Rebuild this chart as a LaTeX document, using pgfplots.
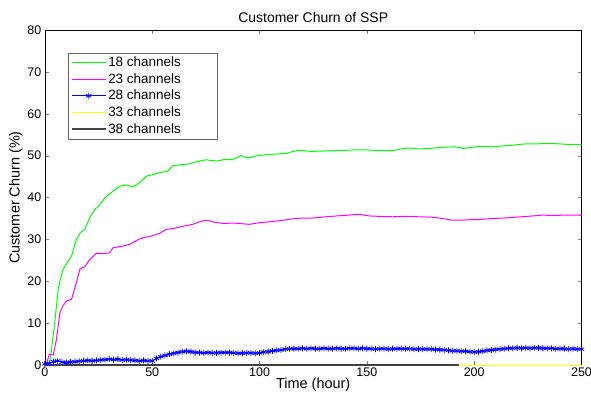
\documentclass[border=0pt]{standalone}
\usepackage{fontspec}
\setmainfont{Liberation Sans}
\usepackage{pgfplots}
\pgfplotsset{compat=1.18}

\definecolor{mgreen}{RGB}{0,255,0}
\definecolor{mmag}{RGB}{255,0,255}
\definecolor{mblue}{RGB}{0,0,255}
\definecolor{myel}{RGB}{255,255,0}

\begin{document}
\begin{tikzpicture}[font=\fontsize{12.5pt}{15pt}\selectfont]
\begin{axis}[
  scale only axis, width=538pt, height=336pt,
  xmin=0, xmax=250, ymin=0, ymax=80,
  xtick={0,50,...,250}, ytick={0,10,...,80},
  tick pos=both, tick align=inside,
  major tick length=4pt,
  /pgf/number format/assume math mode=true,
  ticklabel style={font=\fontsize{12.5pt}{15pt}\selectfont},
  xticklabel style={yshift=1pt},
  title={Customer Churn of SSP},
  title style={font=\fontsize{14pt}{16pt}\selectfont, yshift=-2pt},
  xlabel={Time (hour)}, ylabel={Customer Churn (\%)},
  xlabel style={font=\fontsize{14.5pt}{17pt}\selectfont, yshift=5pt},
  ylabel style={font=\fontsize{14.5pt}{17pt}\selectfont, yshift=-2pt},
  clip=false,
  legend cell align=left,
  legend style={at={(0.043,0.932)}, anchor=north west, draw=black!60,
    font=\fontsize{13.5pt}{16pt}\selectfont, row sep=1.4pt,
    inner xsep=3pt, inner ysep=2pt},
  legend image code/.code={\draw[mark repeat=2,mark phase=2,#1]
    plot coordinates {(0pt,0pt) (17pt,0pt) (34pt,0pt)};},
]
\coordinate (ll) at (rel axis cs:0,0);
\coordinate (ur) at (rel axis cs:1,1);

% 18 channels
\addplot[mgreen, line width=1pt] coordinates {
(0,0) (1,0) (2.3,0.7) (3.1,3.8) (4.6,10.2) (6.2,18) (7.2,20.5) (8.5,22.9) (10.5,24.5) (12.4,26)
(14.7,30) (16.5,31.6) (18.6,32.4) (20.9,35.2) (23.2,37.1) (25.5,38.2) (27.9,39.9) (31,41.2)
(34.9,42.7) (38,43.0) (41,42.5) (44.1,43.5) (47.2,45.1) (50,45.4) (53.4,45.9) (57.3,46.3)
(59.6,47.6) (63,47.8) (67,48.0) (71,48.6) (75.1,49) (80,48.7) (84,49.1) (87.5,49) (91.4,50)
(94.5,49.4) (98,49.9) (103,50.2) (108,50.4) (112.3,50.5) (115,50.9) (118.5,51.3) (124,51.0)
(130,51.1) (136,51.2) (141.7,51.3) (146.4,51.4) (152,51.3) (157,51.2) (162.6,51.2)
(166,51.6) (169.6,51.8) (175,51.6) (181,51.8) (186,52.0) (191.3,52.1) (195.2,51.7)
(199,52.0) (203.7,52.2) (208,52.1) (213,52.3) (218,52.5) (223.8,52.8) (229,52.8)
(234.7,52.9) (240,52.8) (245,52.6) (248.6,52.7) (250,52.6)
};
\addlegendentry{18 channels\rule{31pt}{0pt}}

% 23 channels
\addplot[mmag, line width=1pt] coordinates {
(0,0) (0.8,0.2) (2,2.6) (3.9,2.4) (5.4,6.2) (7,12.5) (8.5,14.2) (10.1,15.3) (12.4,15.7)
(14.7,19.7) (16.3,22.9) (18.6,23.5) (20.9,25.2) (24,26.7) (27,26.6) (30.2,26.8) (31.7,28)
(34,28.2) (36.4,28.4) (39.5,28.8) (42.5,29.7) (45.7,30.4) (49,30.7) (51.9,31.2) (53.4,31.4)
(56.5,32.4) (60,32.6) (64,33.1) (68.9,33.6) (72,34.2) (75.1,34.6) (79,34.1) (82.9,33.8)
(88,33.9) (95.3,33.6) (100,34.0) (105,34.2) (110,34.5) (115.4,34.9) (120,35.1) (125,35.1)
(130.9,35.4) (136,35.6) (141.7,35.8) (146.4,36.0) (151,35.6) (156,35.5) (161.9,35.4)
(168,35.5) (174,35.4) (180.4,35.3) (185,35.0) (189.7,34.6) (194,34.6) (198,34.7)
(203.7,34.8) (209,35.0) (214,35.1) (219.2,35.3) (225,35.5) (231.6,35.8) (237,35.7)
(242,35.8) (248.6,35.8) (250,35.7)
};
\addlegendentry{23 channels}

% 28 channels
\addplot[mblue, line width=1pt, mark=asterisk, mark size=3pt,
  mark options={line width=0.8pt}] coordinates {
(0,0.3) (2,0.4) (4,0.8) (6,1.0) (8,0.7) (10,0.6) (12,0.7) (14,0.8) (16,0.9) (18,1.0)
(20,1.1) (22,1.0) (24,1.1) (26,1.2) (28,1.3) (30,1.4) (32,1.3) (34,1.4) (36,1.2) (38,1.3)
(40,1.2) (42,1.1) (44,1.0) (46,1.1) (48,1.0) (50,1.0) (52,1.6) (54,2.0) (56,2.3) (58,2.6)
(60,2.8) (62,3.0) (64,3.2) (66,3.3) (68,3.2) (70,3.0) (72,3.0) (74,2.9) (76,3.0) (78,2.9)
(80,2.9) (82,3.0) (84,3.0) (86,3.0) (88,2.9) (90,2.8) (92,2.8) (94,2.9) (96,2.9) (98,2.8)
(100,2.9) (102,3.1) (104,3.2) (106,3.4) (108,3.5) (110,3.6) (112,3.8) (114,3.9) (116,3.9)
(118,3.9) (120,4.0) (122,3.9) (124,4.0) (126,3.9) (128,3.9) (130,4.0) (132,3.9) (134,3.9)
(136,4.0) (138,3.9) (140,3.9) (142,4.0) (144,4.0) (146,3.9) (148,4.0) (150,3.9) (152,3.9)
(154,3.8) (156,3.9) (158,3.9) (160,3.8) (162,3.9) (164,3.9) (166,3.9) (168,3.9) (170,3.9)
(172,3.8) (174,3.8) (176,3.8) (178,3.8) (180,3.8) (182,3.7) (184,3.7) (186,3.6) (188,3.5)
(190,3.4) (192,3.4) (194,3.3) (196,3.3) (198,3.2) (200,3.1) (202,3.2) (204,3.3) (206,3.5)
(208,3.6) (210,3.7) (212,3.8) (214,3.9) (216,4.0) (218,4.0) (220,4.1) (222,4.0) (224,4.1)
(226,4.0) (228,4.1) (230,4.1) (232,4.0) (234,4.0) (236,4.0) (238,3.9) (240,3.9) (242,3.9)
(244,3.8) (246,3.9) (248,3.8) (250,3.8)
};
\addlegendentry{28 channels}

% 33 channels
\addplot[myel, line width=1pt] coordinates {(0,0) (250,0)};
\addlegendentry{33 channels}

% 38 channels
\addplot[black!75, line width=1.2pt] coordinates {(0,0) (193,0)};
\addlegendentry{38 channels}
\end{axis}
\pgfresetboundingbox
\path ([shift={(-45pt,-35pt)}]ll) rectangle ([shift={(9.5pt,30pt)}]ur);
\end{tikzpicture}
\end{document}
